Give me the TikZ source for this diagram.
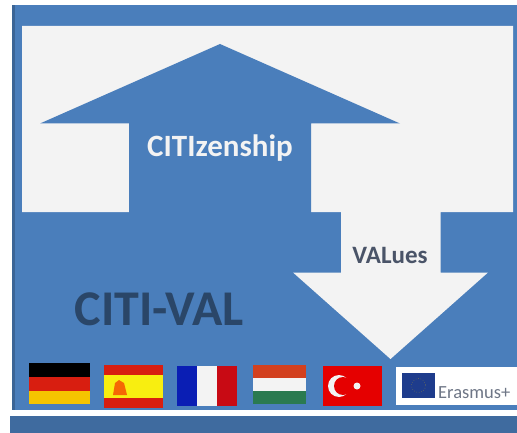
\documentclass[tikz,border=0pt]{standalone}
\usepackage{fontspec}
\setmainfont{Carlito}
\definecolor{panelblue}{HTML}{4A7EBB}
\definecolor{paper}{HTML}{F3F3F3}
\definecolor{darktext}{HTML}{2A4668}
\definecolor{greytext}{HTML}{4A5468}
\definecolor{gold}{HTML}{F5C400}
\definecolor{flagred}{HTML}{D81E10}
\definecolor{spyellow}{HTML}{F8EE10}
\definecolor{frblue}{HTML}{0A1EB4}
\definecolor{frred}{HTML}{C80A14}
\definecolor{hured}{HTML}{D2401E}
\definecolor{hugreen}{HTML}{2A7A50}
\definecolor{eublue}{HTML}{1E3C8C}
\tikzset{
  panel/.style={fill=panelblue,draw=none},
  sheet/.style={fill=paper,draw=none},
  label/.style={inner sep=0pt,font=\bfseries}
}
\begin{document}
\begin{tikzpicture}[x=1pt,y=-1pt]
\useasboundingbox (0,0) rectangle (517,433);
\fill[white] (0,0) rectangle (517,433);
% panel and bottom strip
\fill[panel] (13,5) rectangle (517,410);
\fill[panelblue!80!black] (12,5) rectangle (15,410);
\fill[panelblue!85!black] (10,416) rectangle (517,433);
% white sheet with down arrow
\fill[sheet] (22,26) -- (513,26) -- (513,212) -- (440.5,212) -- (440.5,272.5) -- (488,272.5)
  -- (390.5,359) -- (293,272.5) -- (341,272.5) -- (341,212) -- (22,212) -- cycle;
% up arrow
\fill[panel] (220,44) -- (400,123.5) -- (311,123.5) -- (311,213) -- (129,213) -- (129,123.5) -- (40,123.5) -- cycle;
% labels
\node[label,text=paper,font=\bfseries\fontsize{31}{32}\selectfont] (citizenship) at (220,148) {CITIzenship};
\node[label,text=greytext,font=\bfseries\fontsize{25}{26}\selectfont] (values) at (390,255) {VALues};
\node[label,text=darktext,font=\bfseries\fontsize{50}{52}\selectfont] (citival) at (159.5,309) {CITI-VAL};
% Germany
\fill[black] (29,363) rectangle (90,377);
\fill[flagred] (29,377) rectangle (90,391);
\fill[gold] (29,391) rectangle (90,404);
% Spain
\fill[flagred] (104,365) rectangle (163,408);
\fill[spyellow] (104,375) rectangle (163,398);
\fill[orange!75!flagred] (115,383) -- (119,380) -- (124,383) -- (127,395) -- (113,395) -- cycle;
% France
\fill[frblue] (177,366) rectangle (197,406);
\fill[paper] (197,366) rectangle (217,406);
\fill[frred] (217,366) rectangle (237,406);
% Hungary
\fill[hured] (253,365) rectangle (306,378);
\fill[paper] (253,378) rectangle (306,391);
\fill[hugreen] (253,391) rectangle (306,404);
% Turkey
\fill[red!90!black] (323,366) rectangle (382,406);
\fill[paper] (339,386) circle (11);
\fill[red!90!black] (343,386) circle (9);
\fill[paper] (357,386) circle (3.5);
% Erasmus+
\fill[white] (396,367) rectangle (517,405);
\fill[eublue] (402,373) rectangle (435,398);
\draw[gold!50!eublue,dotted,line width=.5pt] (418.5,385.5) circle (7);
\node[inner sep=0pt,anchor=west,text=greytext!80,font=\fontsize{18.5}{19}\selectfont] (erasmus) at (438,393) {Erasmus+};
\end{tikzpicture}
\end{document}
